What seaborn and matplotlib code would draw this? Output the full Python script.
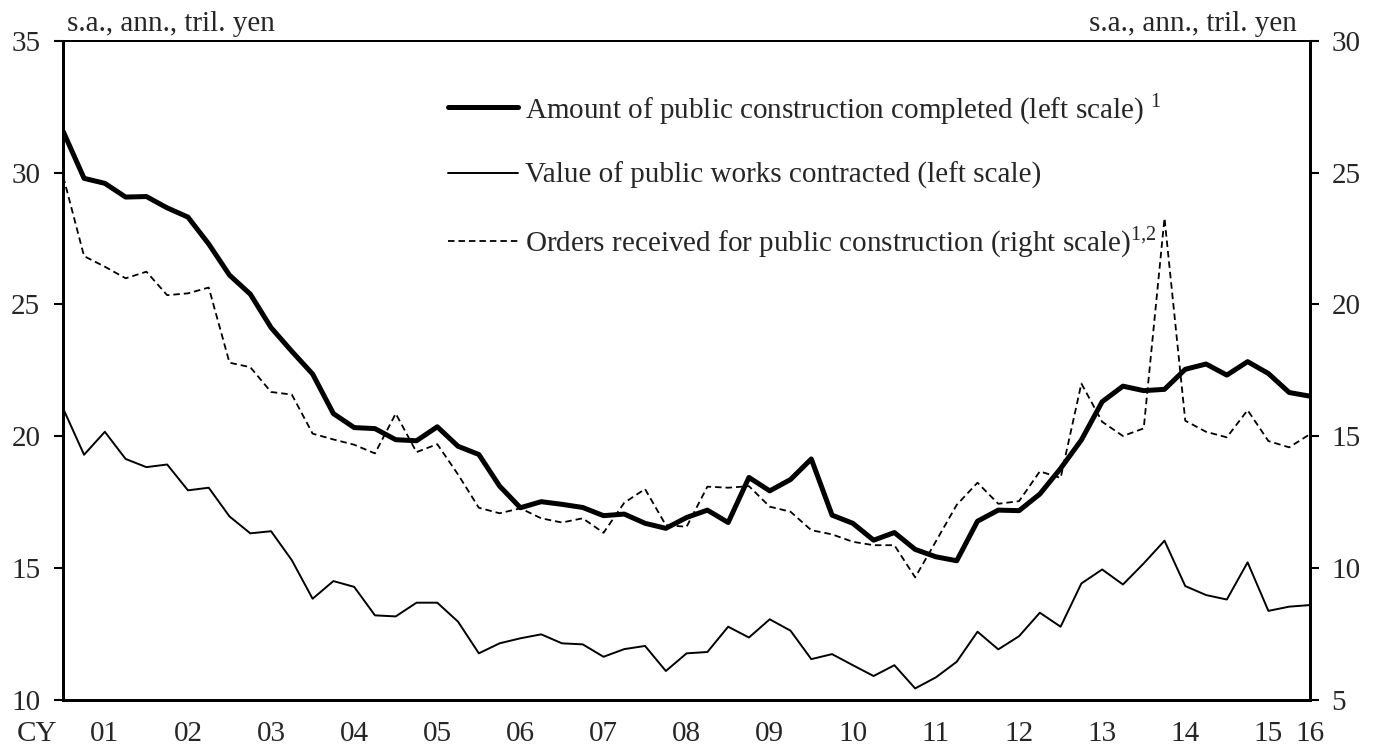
import numpy as np
import pandas as pd
import matplotlib
matplotlib.use("Agg")
import matplotlib.pyplot as plt
import seaborn as sns

# quarterly data, CY2001 Q1 .. CY2016 Q1 (s.a., ann., tril. yen)
completed = [
    31.55, 29.78, 29.59, 29.07, 29.09, 28.66, 28.31, 27.29, 26.11, 25.39,
    24.12, 23.22, 22.36, 20.86, 20.33, 20.29, 19.87, 19.83, 20.36, 19.62,
    19.31, 18.11, 17.29, 17.52, 17.42, 17.30, 16.99, 17.05, 16.70, 16.51,
    16.92, 17.20, 16.73, 18.44, 17.93, 18.36, 19.14, 17.01, 16.70, 16.06,
    16.35, 15.71, 15.43, 15.28, 16.78, 17.20, 17.18, 17.81, 18.78, 19.86,
    21.31, 21.90, 21.73, 21.78, 22.54, 22.74, 22.32, 22.83, 22.38, 21.66,
    21.52,
]
contracted = [
    21.04, 19.30, 20.17, 19.14, 18.83, 18.93, 17.95, 18.05, 16.96, 16.32,
    16.40, 15.30, 13.84, 14.51, 14.29, 13.21, 13.17, 13.69, 13.69, 12.97,
    11.77, 12.15, 12.34, 12.49, 12.15, 12.11, 11.64, 11.93, 12.05, 11.10,
    11.77, 11.82, 12.78, 12.37, 13.06, 12.63, 11.55, 11.74, 11.32, 10.91,
    11.32, 10.44, 10.86, 11.45, 12.59, 11.92, 12.42, 13.31, 12.78, 14.42,
    14.95, 14.38, 15.18, 16.04, 14.32, 13.98, 13.81, 15.22, 13.38, 13.54,
    13.60,
]
orders = [
    24.84, 21.83, 21.43, 20.99, 21.24, 20.35, 20.42, 20.64, 17.79, 17.62,
    16.68, 16.58, 15.10, 14.88, 14.68, 14.35, 15.86, 14.40, 14.70, 13.55,
    12.29, 12.08, 12.27, 11.89, 11.73, 11.89, 11.34, 12.48, 13.00, 11.63,
    11.57, 13.09, 13.05, 13.11, 12.33, 12.14, 11.44, 11.28, 11.00, 10.87,
    10.87, 9.65, 11.02, 12.40, 13.24, 12.44, 12.54, 13.67, 13.42, 17.00,
    15.55, 15.01, 15.30, 23.27, 15.59, 15.17, 14.96, 15.99, 14.82, 14.58,
    15.08,
]
year_labels = ["01", "02", "03", "04", "05", "06", "07", "08", "09", "10",
               "11", "12", "13", "14", "15", "16"]

df = pd.DataFrame({
    "q": np.arange(len(completed)),
    "completed": completed,
    "contracted": contracted,
    "orders": orders,
})

sns.set_style("white")
plt.rcParams["font.family"] = ["Liberation Serif", "DejaVu Serif"]
plt.rcParams["mathtext.fontset"] = "custom"
plt.rcParams["mathtext.rm"] = "Liberation Serif"
FS = 21

fig = plt.figure(figsize=(13.94, 7.49), dpi=100)
ax = fig.add_axes([0.0454, 0.0654, 0.8943, 0.8803])
ax2 = ax.twinx()

sns.lineplot(data=df, x="q", y="completed", ax=ax, color="black", lw=3.6,
             legend=False)
sns.lineplot(data=df, x="q", y="contracted", ax=ax, color="black", lw=1.4,
             legend=False)
sns.lineplot(data=df, x="q", y="orders", ax=ax2, color="black", lw=1.3,
             legend=False, linestyle=(0, (3.6, 2.2)))

n = len(df) - 1
ax.set_xlim(0, n)
ax.set_ylim(10, 35)
ax2.set_ylim(5, 30)
ax.set_xlabel("")
ax.set_ylabel("")
ax2.set_ylabel("")

# year boundaries as inward ticks, labels centred on each year
ax.set_xticks(np.arange(4, n, 4))
ax.set_xticklabels([])
ax.set_xticks(list(np.arange(2, n, 4)) + [n], minor=True)
ax.set_xticklabels(year_labels, minor=True, fontsize=FS)
ax.tick_params(axis="x", which="major", direction="in", length=6, width=1.5,
               color="black")
ax.tick_params(axis="x", which="minor", length=0, pad=15)

ax.set_yticks(np.arange(10, 36, 5))
ax2.set_yticks(np.arange(5, 31, 5))
ax.tick_params(axis="y", direction="out", length=6.5, width=1.5,
               labelsize=FS, pad=10, left=True, color="black")
ax2.tick_params(axis="y", direction="out", length=6.5, width=1.5,
                labelsize=FS, pad=9, right=True, color="black")

for a in (ax, ax2):
    for side, sp in a.spines.items():
        sp.set_visible(True)
        sp.set_color("black")
        sp.set_linewidth(1.3 if side == "top" else 2.0)

fig.text(37 / 1394, 1 - 734 / 749, "CY", ha="center", va="center",
         fontsize=FS)
ax.text(0.003, 1.015, "s.a., ann., tril. yen", transform=ax.transAxes,
        ha="left", va="baseline", fontsize=FS)
ax.text(0.9896, 1.015, "s.a., ann., tril. yen", transform=ax.transAxes,
        ha="right", va="baseline", fontsize=FS)

handles = [ax.get_lines()[0], ax.get_lines()[1], ax2.get_lines()[0]]
labels = [
    r"Amount of public construction completed (left scale) $^{\mathrm{1}}$",
    "Value of public works contracted (left scale)",
    r"Orders received for public construction (right scale)$^{\mathrm{1{,}2}}$",
]
ax2.legend(handles, labels, loc="upper left", bbox_to_anchor=(0.3086, 0.9237),
           frameon=False, fontsize=FS, borderpad=0, borderaxespad=0,
           handlelength=2.4, handletextpad=0.24, labelspacing=1.21)

fig.savefig("out.png", dpi=100)
